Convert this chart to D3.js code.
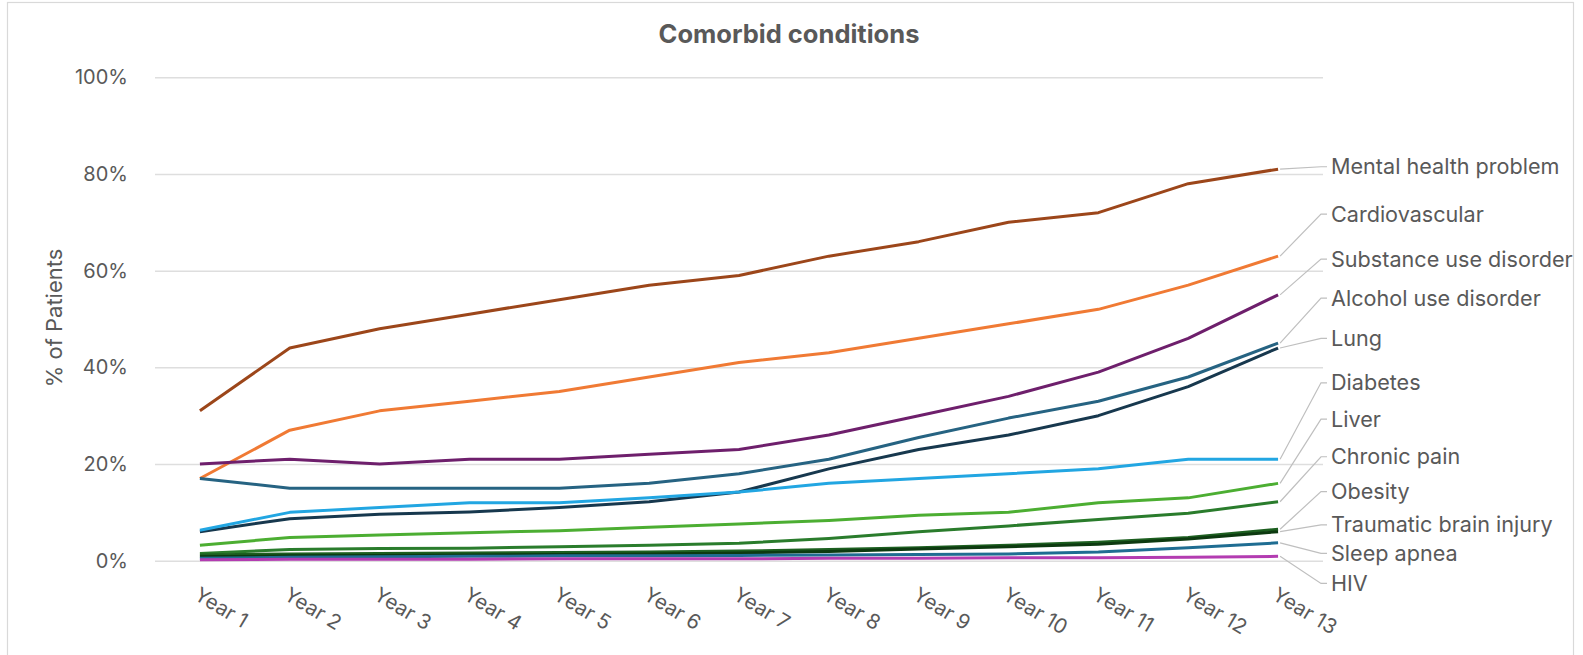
<!DOCTYPE html>
<html>
<head>
<meta charset="utf-8">
<script src="https://cdn.jsdelivr.net/npm/d3@7"></script>
<style>
  html, body { margin: 0; padding: 0; background: #ffffff; }
  svg { display: block; font-family: Inter, "Open Sans", "Liberation Sans", sans-serif; }
</style>
</head>
<body>
<svg id="chart" width="1583" height="655"></svg>
<script>
// Categories
const years = ["Year 1", "Year 2", "Year 3", "Year 4", "Year 5", "Year 6", "Year 7",
               "Year 8", "Year 9", "Year 10", "Year 11", "Year 12", "Year 13"];

// Share of patients (%) per year for each condition
const mentalHealth   = [31, 44, 48, 51, 54, 57, 59, 63, 66, 70, 72, 78, 81];
const cardiovascular = [17, 27, 31, 33, 35, 38, 41, 43, 46, 49, 52, 57, 63];
const substanceUse   = [20, 21, 20, 21, 21, 22, 23, 26, 30, 34, 39, 46, 55];
const alcoholUse     = [17, 15, 15, 15, 15, 16, 18, 21, 25.5, 29.5, 33, 38, 45];
const lung           = [6, 8.7, 9.6, 10.1, 11, 12.2, 14.2, 19, 23, 26, 30, 36, 44];
const diabetes       = [6.3, 10, 11, 12, 12, 13, 14.2, 16, 17, 18, 19, 21, 21];
const liver          = [3.2, 4.8, 5.3, 5.8, 6.2, 6.9, 7.6, 8.3, 9.4, 10, 12, 13, 16];
const chronicPain    = [1.5, 2.3, 2.5, 2.6, 2.9, 3.2, 3.6, 4.6, 6, 7.2, 8.5, 9.8, 12.2];
const obesity        = [1.2, 1.4, 1.5, 1.6, 1.7, 1.8, 2.0, 2.3, 2.7, 3.2, 3.8, 4.8, 6.5];
const brainInjury    = [0.8, 1.0, 1.1, 1.2, 1.3, 1.4, 1.6, 1.9, 2.4, 2.9, 3.4, 4.5, 6.0];
const sleepApnea     = [0.5, 0.7, 0.8, 0.9, 1.0, 1.0, 1.1, 1.2, 1.3, 1.4, 1.8, 2.7, 3.7];
const hiv            = [0.2, 0.3, 0.3, 0.3, 0.4, 0.4, 0.4, 0.5, 0.5, 0.6, 0.6, 0.7, 0.9];

const seriesNames = ["Mental health problem", "Cardiovascular", "Substance use disorder",
  "Alcohol use disorder", "Lung", "Diabetes", "Liver", "Chronic pain", "Obesity",
  "Traumatic brain injury", "Sleep apnea", "HIV"];

// Y-axis tick values (%)
const yTicks = [0, 20, 40, 60, 80, 100];

// ---- styling / layout ----
const seriesColors = ["#9c461a", "#f07a34", "#6e1f6c", "#266382", "#17384e", "#22a6e2",
  "#4cae32", "#2a7c2c", "#1d5f20", "#0d3a10", "#1f6d92", "#b33cb1"];
// End-label anchors, in axis units, spread apart so the names do not collide
const labelSlots = [81.5, 71.7, 62.4, 54.3, 46.0, 36.8, 29.3, 21.5, 14.3, 7.4, 1.5, -4.7];

const series = [mentalHealth, cardiovascular, substanceUse, alcoholUse, lung, diabetes,
  liver, chronicPain, obesity, brainInjury, sleepApnea, hiv]
  .map((values, i) => ({ name: seriesNames[i], values, color: seriesColors[i], slot: labelSlots[i] }));

const textColor = "#595959";
const plot = { left: 155, right: 1323, top: 77.3, bottom: 560.7 };

const svg = d3.select("#chart");

// Outer chart frame
svg.append("rect")
  .attr("x", 7.5).attr("y", 2.5)
  .attr("width", 1566).attr("height", 700)
  .attr("fill", "none").attr("stroke", "#d9d9d9").attr("stroke-width", 1.2);

const x = d3.scaleBand().domain(years).range([plot.left, plot.right]);
const cx = d => x(d) + x.bandwidth() / 2;
const y = d3.scaleLinear().domain([0, 100]).range([plot.bottom, plot.top]);

// Title
svg.append("text")
  .attr("x", 789).attr("y", 43)
  .attr("text-anchor", "middle")
  .attr("fill", textColor)
  .attr("font-size", 25.5).attr("font-weight", 700)
  .text("Comorbid conditions");

// Y axis with horizontal gridlines
const yAxis = svg.append("g")
  .attr("transform", `translate(${plot.left},0)`)
  .call(d3.axisLeft(y).tickValues(yTicks).tickFormat(d => d + "%")
    .tickSize(-(plot.right - plot.left)).tickPadding(27));
yAxis.select(".domain").remove();
yAxis.selectAll(".tick line").attr("stroke", "#dedede").attr("stroke-width", 1.5);
yAxis.selectAll(".tick text")
  .attr("fill", textColor).attr("font-size", 20)
  .attr("font-family", "Inter, 'Open Sans', sans-serif");

// Y axis title
svg.append("text")
  .attr("transform", "translate(54,318) rotate(-90)")
  .attr("text-anchor", "middle").attr("dy", "0.35em")
  .attr("fill", textColor).attr("font-size", 22)
  .text("% of Patients");

// X axis with slanted category labels
const xAxis = svg.append("g")
  .attr("transform", `translate(0,${plot.bottom})`)
  .call(d3.axisBottom(x).tickSize(0));
xAxis.select(".domain").remove();
xAxis.selectAll(".tick text")
  .attr("y", 0).attr("dy", null).attr("x", 0)
  .attr("text-anchor", "start")
  .attr("transform", "translate(-7,38) rotate(31)")
  .attr("fill", textColor).attr("font-size", 20.5)
  .attr("font-family", "Inter, 'Open Sans', sans-serif");

// Series lines
const line = d3.line()
  .x((v, i) => cx(years[i]))
  .y(v => y(v));

svg.append("g").selectAll("path")
  .data(series)
  .join("path")
  .attr("d", d => line(d.values))
  .attr("fill", "none")
  .attr("stroke", d => d.color)
  .attr("stroke-width", 3)
  .attr("stroke-linejoin", "round")
  .attr("stroke-linecap", "butt");

// Leader lines and end labels
const lastYear = years[years.length - 1];
const xEnd = cx(lastYear);
const elbowX = 1321, tailX = 1327, textX = 1331;

const labels = svg.append("g");
labels.selectAll("path")
  .data(series)
  .join("path")
  .attr("d", d => {
    const v = d.values[d.values.length - 1];
    return `M${xEnd + 2},${y(v)}L${elbowX},${y(d.slot)}L${tailX},${y(d.slot)}`;
  })
  .attr("fill", "none")
  .attr("stroke", "#bfbfbf")
  .attr("stroke-width", 1.2);

labels.selectAll("text")
  .data(series)
  .join("text")
  .attr("x", textX)
  .attr("y", d => y(d.slot))
  .attr("dy", "0.35em")
  .attr("fill", textColor)
  .attr("font-size", 21.6)
  .text(d => d.name);
</script>
</body>
</html>
